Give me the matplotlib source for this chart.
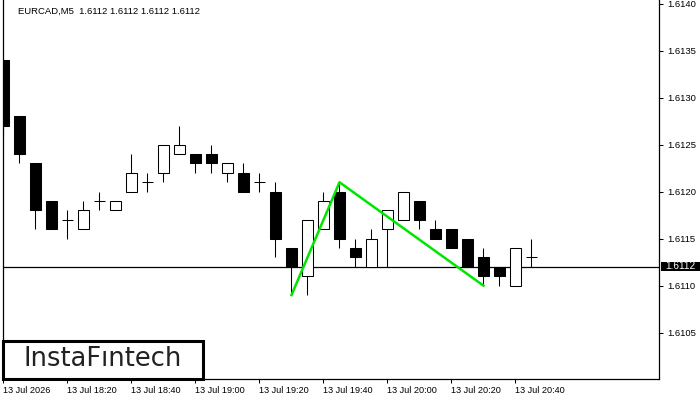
import matplotlib
matplotlib.use('Agg')
import matplotlib.pyplot as plt
from matplotlib.patches import Rectangle

# --------------- Data (EURCAD M5) ---------------
opens  = [1.6134, 1.6128, 1.6123, 1.6119, 1.6117, 1.6116, 1.6119, 1.6118, 1.6120, 1.6121,
          1.6122, 1.6124, 1.6124, 1.6124, 1.6122, 1.6122, 1.6121, 1.6120, 1.6114, 1.6111,
          1.6116, 1.6120, 1.6114, 1.6112, 1.6116, 1.6117, 1.6119, 1.6116, 1.6116, 1.6115,
          1.6113, 1.6112, 1.6110, 1.6113]
highs  = [1.6134, 1.6128, 1.6123, 1.6119, 1.6118, 1.6119, 1.6120, 1.6119, 1.6124, 1.6122,
          1.6125, 1.6127, 1.6124, 1.6125, 1.6123, 1.6123, 1.6122, 1.6121, 1.6114, 1.6117,
          1.6120, 1.6121, 1.6115, 1.6116, 1.6118, 1.6120, 1.6119, 1.6117, 1.6116, 1.6115,
          1.6114, 1.6112, 1.6114, 1.6115]
lows   = [1.6126, 1.6123, 1.6116, 1.6116, 1.6115, 1.6116, 1.6118, 1.6118, 1.6120, 1.6120,
          1.6121, 1.6124, 1.6122, 1.6122, 1.6121, 1.6120, 1.6120, 1.6113, 1.6109, 1.6109,
          1.6116, 1.6114, 1.6112, 1.6112, 1.6112, 1.6117, 1.6116, 1.6115, 1.6114, 1.6112,
          1.6110, 1.6110, 1.6110, 1.6112]
closes = [1.6127, 1.6124, 1.6118, 1.6116, 1.6117, 1.6118, 1.6119, 1.6119, 1.6122, 1.6121,
          1.6125, 1.6125, 1.6123, 1.6123, 1.6123, 1.6120, 1.6121, 1.6115, 1.6112, 1.6117,
          1.6119, 1.6115, 1.6113, 1.6115, 1.6118, 1.6120, 1.6117, 1.6115, 1.6114, 1.6112,
          1.6111, 1.6111, 1.6114, 1.6113]

pattern_idx = [18, 21, 30]
pattern_px = [1.6109, 1.6121, 1.6110]

last_price = 1.6112
title = 'EURCAD,M5  1.6112 1.6112 1.6112 1.6112'

xtick_idx = [0, 4, 8, 12, 16, 20, 24, 28, 32]
xtick_labels = ['13 Jul 2026', '13 Jul 18:20', '13 Jul 18:40', '13 Jul 19:00', '13 Jul 19:20',
                '13 Jul 19:40', '13 Jul 20:00', '13 Jul 20:20', '13 Jul 20:40']
ytick_vals = [1.6105, 1.6110, 1.6115, 1.6120, 1.6125, 1.6130, 1.6135, 1.6140]

# --------------- Figure ---------------
W, H = 700, 400
fig = plt.figure(figsize=(7, 4), dpi=100)
plt.rcParams['font.family'] = ['Liberation Sans', 'DejaVu Sans']
ax = fig.add_axes([3/W, 1 - 379/H, 656/W, 379/H])

body_w = 0.66
lw = 0.75
for i in range(len(opens)):
    o, h, l, c = opens[i], highs[i], lows[i], closes[i]
    ax.vlines(i, l, h, color='black', lw=lw, zorder=2)
    if o == c:
        ax.hlines(o, i - body_w/2, i + body_w/2, color='black', lw=lw, zorder=3)
    else:
        fc = 'white' if c > o else 'black'
        ax.bar(i, abs(c - o), bottom=min(o, c), width=body_w, facecolor=fc,
               edgecolor='black', linewidth=lw, zorder=3)

# current price line
ax.axhline(last_price, color='black', lw=0.9, zorder=1)

# double bottom pattern
ax.plot(pattern_idx, pattern_px, color='#00e600', lw=1.8, zorder=5)

ax.set_xlim(-0.03, 40.97)
ax.set_ylim(1.610007, 1.614039)

ax.yaxis.tick_right()
ax.set_yticks(ytick_vals)
ax.set_yticklabels(['%.4f' % v for v in ytick_vals])
ax.set_xticks(xtick_idx)
ax.set_xticklabels(xtick_labels, ha='left')
ax.tick_params(axis='y', direction='out', length=3, width=0.75, pad=3, labelsize=6.8)
ax.tick_params(axis='x', direction='out', length=3, width=0.75, pad=2, labelsize=6.6)
for s in ['left', 'right', 'bottom']:
    ax.spines[s].set_linewidth(0.9)
ax.spines['top'].set_visible(False)

fig.text(18/W, 1 - 11/H, title, fontsize=6.8, va='center', ha='left')

# price label on the right axis
fig.patches.append(Rectangle((661/W, 1 - 270.5/H), 39/W, 9/H, transform=fig.transFigure,
                             facecolor='black', edgecolor='none'))
fig.text(680/W, 1 - 266/H, '1.6112', color='white', fontsize=7.2, ha='center', va='center')

# logo box
fig.patches.append(Rectangle((3/W, 1 - 379/H), 200/W, 38/H, transform=fig.transFigure,
                             facecolor='white', edgecolor='black', lw=2.2, zorder=10))
fig.text(103/W, 1 - 359/H, 'InstaF\u0131ntech', fontsize=18.5, color='#222222',
         family='DejaVu Sans', ha='center', va='center', zorder=11)

fig.savefig('out.png', dpi=100)
